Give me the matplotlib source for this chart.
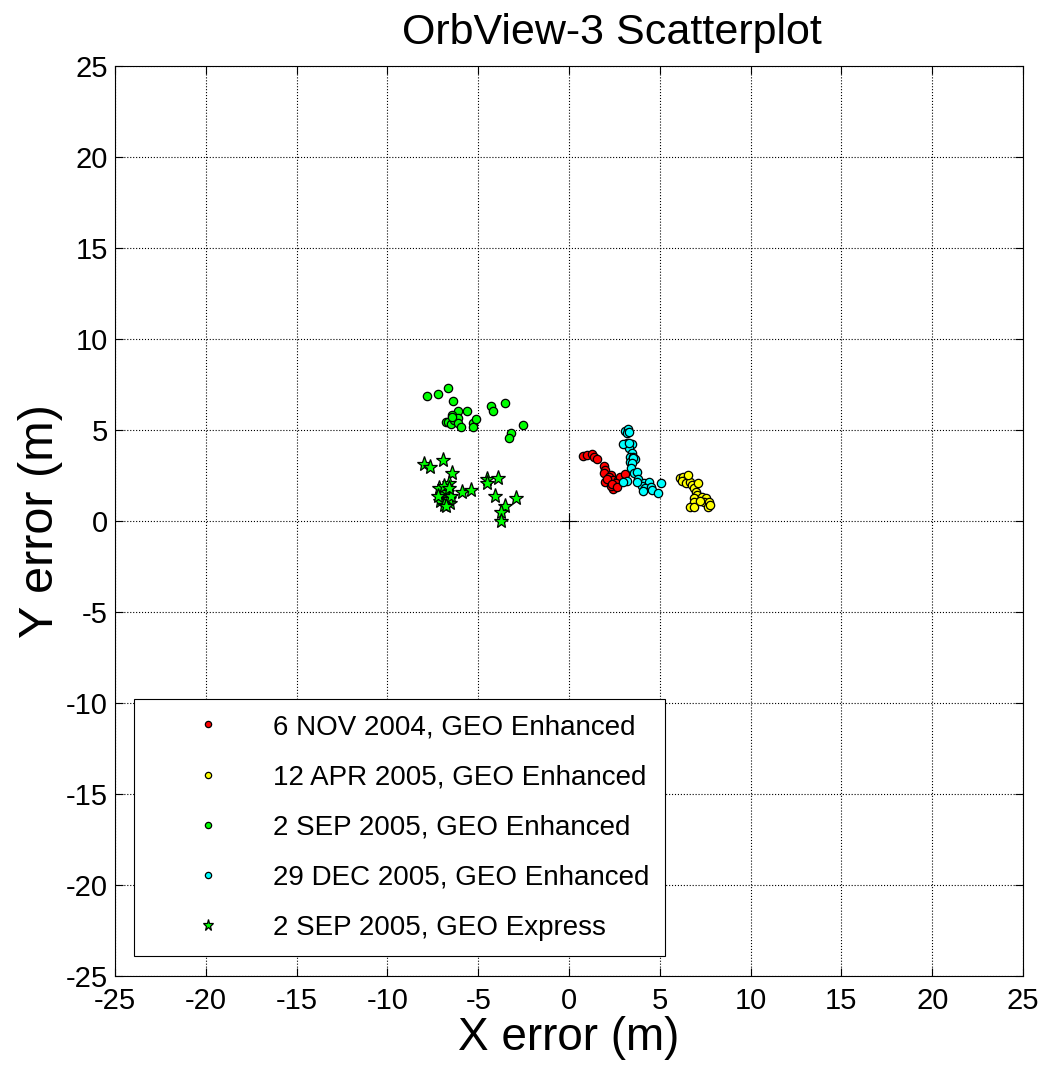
import matplotlib
matplotlib.use('Agg')
import matplotlib.pyplot as plt
import numpy as np

plt.rcParams['font.family'] = ['Liberation Sans', 'DejaVu Sans']
plt.rcParams['axes.unicode_minus'] = False

# 6 NOV 2004, GEO Enhanced
nov04_x = [0.79, 1.0, 1.25, 1.38, 1.53, 1.90, 1.98, 1.90, 2.29, 1.98, 2.2, 2.44, 2.53,
           2.71, 2.44, 2.80, 3.06, 2.1, 2.6, 2.3, 2.35, 2.65]
nov04_y = [3.57, 3.6, 3.68, 3.50, 3.41, 3.02, 2.80, 2.62, 2.53, 2.16, 2.4, 2.25, 1.98,
           2.25, 1.74, 2.43, 2.58, 2.3, 2.1, 1.9, 2.05, 1.85]

# 12 APR 2005, GEO Enhanced
apr05_x = [6.11, 6.30, 6.47, 6.2, 6.42, 6.69, 6.78, 6.91, 6.97, 7.06, 6.91, 6.87, 6.65,
           6.87, 7.33, 7.52, 7.42, 7.70, 7.64, 7.79, 7.20, 7.09, 6.55]
apr05_y = [2.38, 2.43, 2.25, 2.2, 2.07, 2.16, 1.98, 1.80, 1.61, 1.43, 1.25, 1.03, 0.79,
           0.79, 1.34, 1.25, 1.06, 1.06, 0.79, 0.88, 1.10, 2.07, 2.55]

# 2 SEP 2005, GEO Enhanced
sep05_x = [-7.80, -7.23, -6.66, -6.39, -6.10, -5.64, -6.43, -6.80, -6.68, -6.51, -6.33,
           -6.10, -6.10, -5.96, -6.43, -5.31, -5.31, -5.13, -4.27, -4.20, -3.50, -2.52,
           -3.21, -3.28]
sep05_y = [6.87, 6.96, 7.29, 6.59, 6.04, 6.04, 5.82, 5.46, 5.46, 5.31, 5.55, 5.64, 5.37,
           5.18, 5.70, 5.40, 5.18, 5.62, 6.32, 6.04, 6.46, 5.26, 4.85, 4.54]

# 29 DEC 2005, GEO Enhanced
dec05_x = [3.08, 3.27, 3.18, 3.30, 3.18, 3.32, 3.45, 3.32, 3.45, 3.36, 3.54, 3.63, 3.36,
           2.99, 3.30, 3.51, 3.45, 3.40, 3.58, 3.73, 3.82, 3.21, 2.99, 4.13, 4.42, 4.03,
           4.21, 4.49, 4.58, 4.89, 5.05, 3.73, 4.06]
dec05_y = [4.96, 5.04, 4.85, 4.90, 4.30, 4.18, 4.23, 3.99, 3.72, 3.53, 3.50, 3.39, 3.26,
           4.23, 4.30, 3.45, 3.17, 2.90, 2.62, 2.71, 2.29, 2.21, 2.16, 2.10, 2.16, 1.92,
           1.80, 1.88, 1.70, 1.56, 2.10, 2.16, 1.66]

# 2 SEP 2005, GEO Express
exp05_x = [-8.0, -7.67, -6.93, -6.43, -7.17, -6.62, -6.53, -5.91, -5.37, -4.54, -4.54,
           -3.92, -4.09, -3.55, -3.77, -3.77, -2.90, -7.0, -6.8, -7.1, -6.9, -6.7, -6.6,
           -6.8, -7.2, -6.5, -6.9, -6.6]
exp05_y = [3.13, 2.95, 3.35, 2.65, 1.80, 2.07, 0.97, 1.61, 1.70, 2.29, 2.07, 2.35, 1.37,
           0.84, 0.51, 0.02, 1.28, 1.5, 1.3, 1.1, 0.9, 1.6, 1.2, 0.8, 1.4, 1.4, 1.9, 1.8]

series = [
    (nov04_x, nov04_y, '6 NOV 2004, GEO Enhanced', 'o', '#ff0000'),
    (apr05_x, apr05_y, '12 APR 2005, GEO Enhanced', 'o', '#ffff00'),
    (sep05_x, sep05_y, '2 SEP 2005, GEO Enhanced', 'o', '#00ff00'),
    (dec05_x, dec05_y, '29 DEC 2005, GEO Enhanced', 'o', '#00ffff'),
    (exp05_x, exp05_y, '2 SEP 2005, GEO Express', '*', '#00ff00'),
]

fig = plt.figure(figsize=(10.42, 10.67), dpi=100)
ax = fig.add_axes([115 / 1042, 1 - 976 / 1067, 908 / 1042, 910 / 1067])

for x, y, label, mk, col in series:
    ms = 6 if mk == 'o' else 11
    ax.plot(x, y, linestyle='none', marker=mk, markersize=ms, markerfacecolor=col,
            markeredgecolor='black', markeredgewidth=0.9, label=label)

# origin marker
ax.plot([0], [0], marker='+', color='black', markersize=12, markeredgewidth=0.8,
        linestyle='none')

ax.set_xlim(-25, 25)
ax.set_ylim(-25, 25)
ticks = np.arange(-25, 26, 5)
ax.set_xticks(ticks)
ax.set_yticks(ticks)
ax.tick_params(direction='in', length=6, top=True, right=True, labelsize=21, pad=5)
ax.tick_params(axis='x', pad=8)
ax.grid(True, linestyle=':', color='black', linewidth=0.8)
for sp in ax.spines.values():
    sp.set_linewidth(0.8)

ax.set_xlabel('X error (m)', fontsize=33, labelpad=1)
ax.set_ylabel('Y error (m)', fontsize=35, labelpad=2)
fig.text(612 / 1042, 1 - 33 / 1067, 'OrbView-3 Scatterplot', fontsize=31,
         ha='center', va='center')

leg = ax.legend(loc='lower left', bbox_to_anchor=(19 / 908, 20 / 910), fontsize=20,
                frameon=True, fancybox=False, edgecolor='black', framealpha=1,
                markerscale=0.75, handlelength=4.2, handletextpad=0.25,
                borderpad=0.55, labelspacing=0.87, borderaxespad=0)
leg.get_frame().set_linewidth(0.8)

fig.savefig('out.png', dpi=100)
